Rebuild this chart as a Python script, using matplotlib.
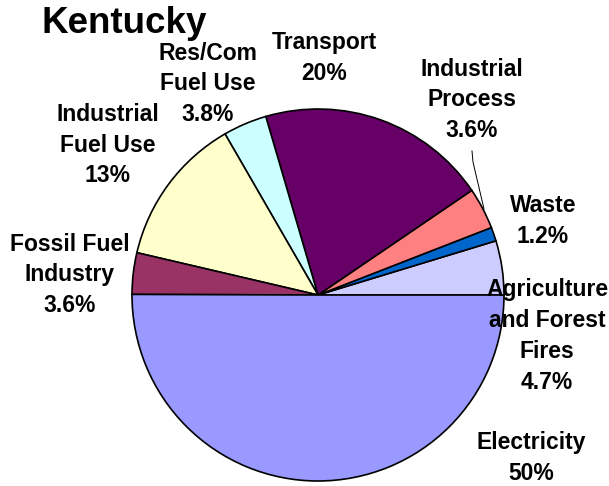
import matplotlib
matplotlib.use("Agg")
import matplotlib.pyplot as plt
import numpy as np

categories = ["Agriculture\nand Forest\nFires", "Waste", "Industrial\nProcess", "Transport",
              "Res/Com\nFuel Use", "Industrial\nFuel Use", "Fossil Fuel\nIndustry", "Electricity"]
values = [4.7, 1.2, 3.6, 20, 3.8, 13, 3.6, 50]
pct_labels = ["4.7%", "1.2%", "3.6%", "20%", "3.8%", "13%", "3.6%", "50%"]
colors = ["#CCCCFF", "#0066CC", "#FF8080", "#660066", "#CCFFFF", "#FFFFCC", "#993366", "#9999FF"]

W, H = 609, 486
fig = plt.figure(figsize=(W / 100, H / 100), dpi=100)
ax = fig.add_axes([0, 0, 1, 1])

cx, cy, R = 318, H - 295, 186
ax.pie(values, colors=colors, startangle=0, counterclock=True, center=(cx, cy), radius=R,
       wedgeprops=dict(edgecolor="black", linewidth=1.2), frame=True)
ax.set_xlim(0, W)
ax.set_ylim(0, H)
ax.set_aspect("equal")
ax.axis("off")

font = dict(family=["Liberation Sans", "DejaVu Sans"], fontweight="bold", fontsize=16.5, color="black")
# label positions (pixel centers)
label_pos = [(547, 336), (543, 221), (472, 100), (324, 58), (208, 84), (108, 145), (70, 275), (531, 458)]
for name, pct, (x, y) in zip(categories, pct_labels, label_pos):
    ax.text(x, H - y, name + "\n" + pct, ha="center", va="center", multialignment="center",
            linespacing=1.43, **font)

# leader line for Industrial Process
ax.plot([472, 473, 484], [H - 151, H - 162, H - 209], color="black", lw=0.7)

ax.text(42, H - 24, "Kentucky", ha="left", va="center", family=["Liberation Sans", "DejaVu Sans"],
        fontweight="bold", fontsize=26.5)

fig.savefig("out.png", dpi=100)
